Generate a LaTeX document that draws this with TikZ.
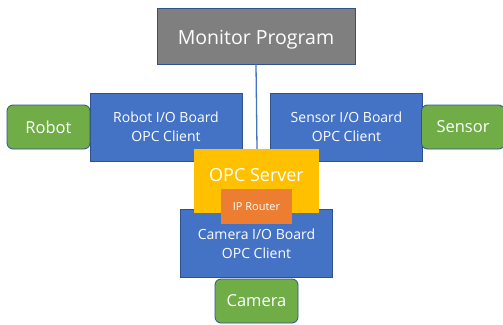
\documentclass[tikz,border=0pt]{standalone}
\usepackage{fontspec}
\setmainfont{Open Sans}
\usepackage{xcolor}

\begin{document}
\begin{tikzpicture}[
    x=1pt, y=-1pt,
    font=\fontsize{14}{19}\selectfont,
    box/.style={
        draw=edgecol,
        line width=0.8pt,
        text=white,
        align=center,
        inner sep=0pt
    },
    board/.style={
        box,
        fill=boardcol,
        minimum width=152pt,
        minimum height=68pt
    },
    device/.style={
        box,
        fill=devcol,
        rounded corners=6pt,
        minimum width=83pt,
        minimum height=44pt,
        font=\fontsize{16.5}{19}\selectfont
    }
]

\definecolor{edgecol}{HTML}{2F528F}
\definecolor{boardcol}{HTML}{4472C4}
\definecolor{devcol}{HTML}{70AD47}
\definecolor{moncol}{HTML}{7F7F7F}
\definecolor{servcol}{HTML}{FFC000}
\definecolor{routcol}{HTML}{ED7D31}

\useasboundingbox (0,0) rectangle (503,324);

\node[box, fill=moncol, minimum width=198pt, minimum height=56pt,
    font=\fontsize{19.5}{22}\selectfont, text height=17pt, text depth=1pt]
    (monitor) at (256,36) {Monitor Program};

\node[board] (robotio) at (166,127) {Robot I/O Board\\OPC Client};
\node[board] (sensorio) at (346.5,127) {Sensor I/O Board\\OPC Client};

\node[device] (robot) at (48.5,127) {Robot};
\node[device] (sensor) at (463,127) {Sensor};

\node[board] (cameraio) at (256.5,243.5) {Camera I/O Board\\OPC Client};

\draw[boardcol, line width=1.3pt] (monitor.south) -- (257,149);

\node[box, draw=none, fill=servcol, minimum width=125pt, minimum height=64pt,
    font=\fontsize{18}{20}\selectfont, text height=13pt, text depth=13pt]
    (server) at (256.5,181) {OPC Server};

\node[box, draw=none, fill=routcol, minimum width=71pt, minimum height=35pt,
    font=\fontsize{11}{13}\selectfont] (router) at (256.5,206.5) {IP Router};

\node[device] (camera) at (256.5,301) {Camera};

\end{tikzpicture}
\end{document}
